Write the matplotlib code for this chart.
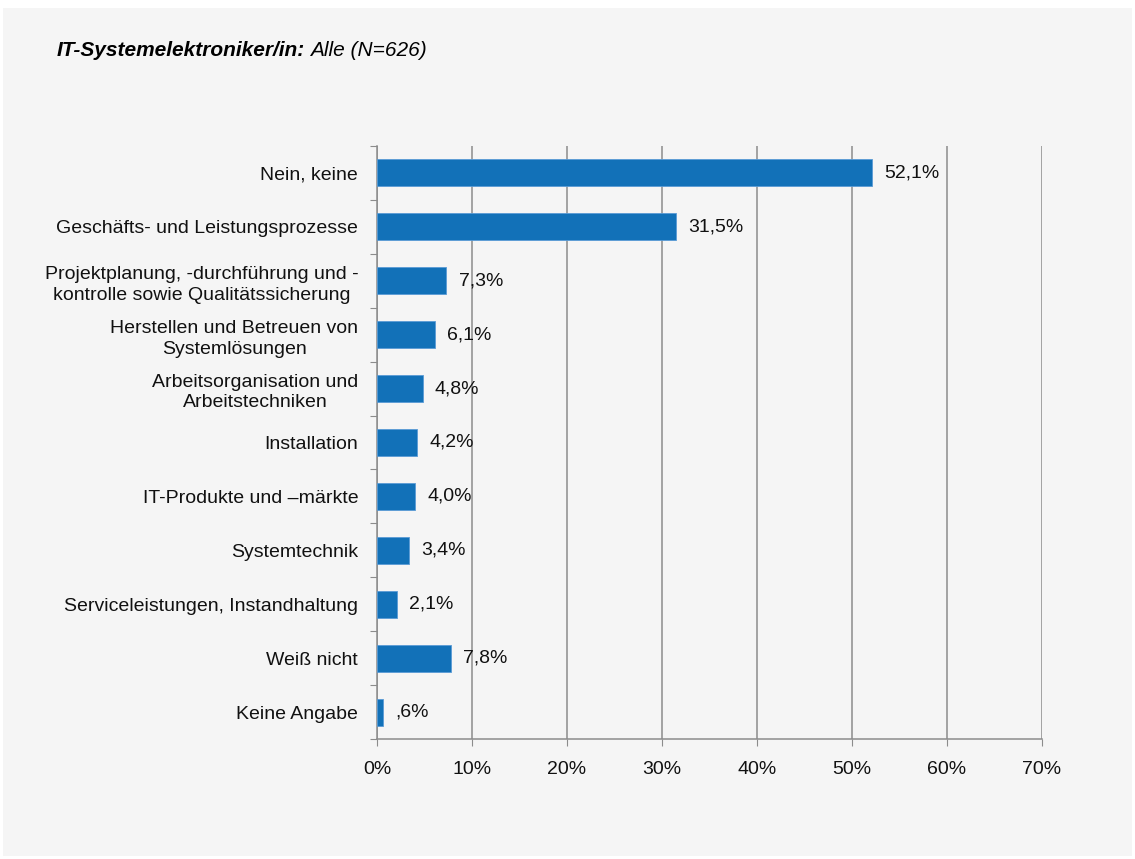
import matplotlib
matplotlib.use('Agg')
import matplotlib.pyplot as plt
from matplotlib.patches import Rectangle

plt.rcParams['font.family'] = ['Liberation Sans', 'DejaVu Sans']

categories = [
    'Nein, keine',
    'Geschäfts- und Leistungsprozesse',
    'Projektplanung, -durchführung und -\nkontrolle sowie Qualitätssicherung',
    'Herstellen und Betreuen von\nSystemlösungen',
    'Arbeitsorganisation und\nArbeitstechniken',
    'Installation',
    'IT-Produkte und \u2013märkte',
    'Systemtechnik',
    'Serviceleistungen, Instandhaltung',
    'Weiß nicht',
    'Keine Angabe',
]
values = [52.1, 31.5, 7.3, 6.1, 4.8, 4.2, 4.0, 3.4, 2.1, 7.8, 0.6]
value_labels = ['52,1%', '31,5%', '7,3%', '6,1%', '4,8%', '4,2%', '4,0%',
                '3,4%', '2,1%', '7,8%', ',6%']
xticks = [0, 10, 20, 30, 40, 50, 60, 70]

bar_color = '#1271b8'
grid_color = '#8c8c8c'
fs = 14

fig = plt.figure(figsize=(11.35, 8.59), dpi=100, facecolor='white')
fig.patches.append(Rectangle((3 / 1135, 3 / 859), 1129 / 1135, 848 / 859,
                             transform=fig.transFigure, facecolor='#f5f5f5',
                             edgecolor='none', zorder=-5))

ax = fig.add_axes([377 / 1135, 1 - 739 / 859, 665 / 1135, 593 / 859])
ax.set_facecolor('none')

n = len(categories)
ypos = list(range(n))
ax.barh(ypos, values, height=0.5, color=bar_color, edgecolor='#5a9bd5',
        linewidth=0.6, zorder=3)

ax.set_xlim(0, 70)
ax.set_ylim(n - 0.5, -0.5)
ax.set_xticks(xticks)
ax.set_xticklabels([f'{t}%' for t in xticks], fontsize=fs)
ax.grid(axis='x', color=grid_color, linewidth=1.1, zorder=1)
ax.grid(axis='y', visible=False)

# labels at the bar centres, tick marks at the category boundaries
ax.set_yticks([i - 0.5 for i in range(n + 1)])
ax.set_yticklabels([])
ax.set_yticks(ypos, minor=True)
ax.set_yticklabels(categories, minor=True, fontsize=fs, multialignment='center',
                   color='#111111', linespacing=1.3)
ax.tick_params(axis='y', which='major', length=5, color=grid_color, direction='out')
ax.tick_params(axis='y', which='minor', length=0, pad=13.5)
ax.tick_params(axis='x', length=5, color=grid_color, pad=11, labelcolor='#111111')

for s in ['top', 'right']:
    ax.spines[s].set_visible(False)
for s in ['left', 'bottom']:
    ax.spines[s].set_color(grid_color)
    ax.spines[s].set_linewidth(1.1)

for i in range(n):
    ax.text(values[i] + 1.3, ypos[i], value_labels[i], fontsize=fs,
            ha='left', va='center', color='#111111', zorder=4)

t1 = fig.text(57 / 1135, 1 - 51 / 859, 'IT-Systemelektroniker/in:', fontsize=15,
              fontweight='bold', fontstyle='italic', ha='left', va='center')
fig.canvas.draw()
bb = t1.get_window_extent()
fig.text((bb.x1 + 5) / 1135, 1 - 51 / 859, 'Alle (N=626)', fontsize=15,
         fontstyle='italic', ha='left', va='center')

plt.savefig('out.png', dpi=100, facecolor='white')
